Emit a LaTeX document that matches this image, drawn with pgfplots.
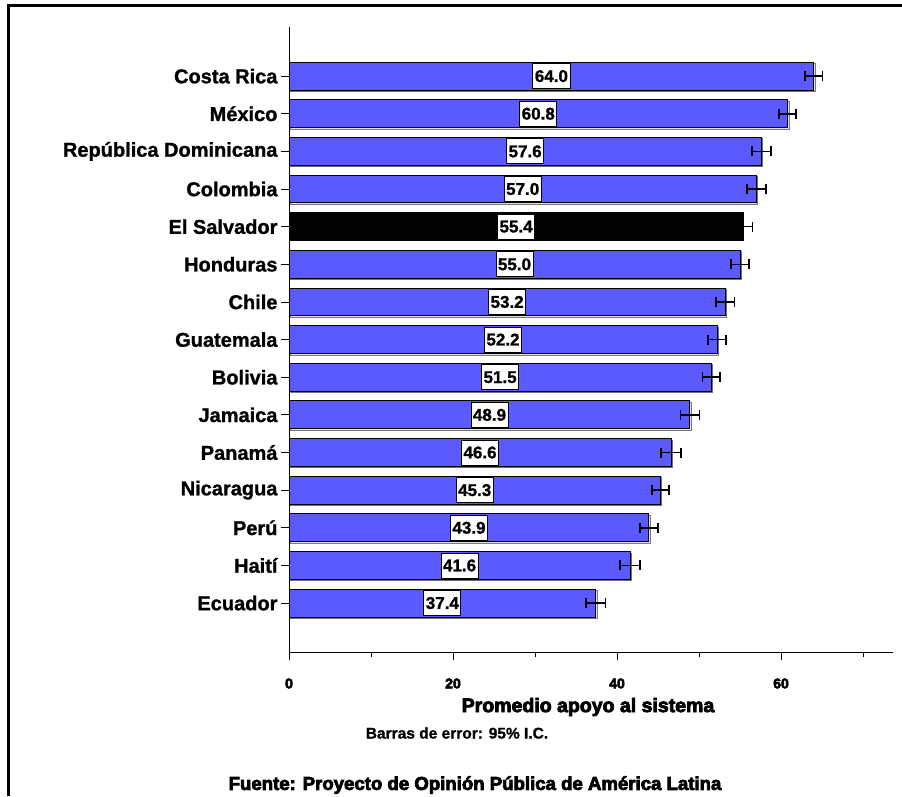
\documentclass[border=0pt]{standalone}
\usepackage{pgfplots}
\pgfplotsset{compat=1.18}
\usepackage{pgfplotstable}
\usepackage{fontspec}
\setmainfont{Liberation Sans}[BoldFeatures={FakeBold=1.2}]
\newfontfamily\heavy{Liberation Sans}[BoldFeatures={FakeBold=4}]
\usetikzlibrary{shadows}
\definecolor{barblue}{RGB}{90,90,255}

\pgfplotstableread{
y v e lab
14 64.0 1.05 64.0
13 60.8 1.05 60.8
12 57.6 1.15 57.6
11 57.0 1.15 57.0
9 55.0 1.1 55.0
8 53.2 1.15 53.2
7 52.2 1.1 52.2
6 51.5 1.05 51.5
5 48.9 1.15 48.9
4 46.6 1.2 46.6
3 45.3 1.05 45.3
2 43.9 1.1 43.9
1 41.6 1.2 41.6
0 37.4 1.2 37.4
}\dataBlue
\pgfplotstableread{
y v e lab
10 55.4 1.1 55.4
}\dataES
\pgfplotstableread{
y v lab
14 64.0 64.0
13 60.8 60.8
12 57.6 57.6
11 57.0 57.0
10 55.4 55.4
9 55.0 55.0
8 53.2 53.2
7 52.2 52.2
6 51.5 51.5
5 48.9 48.9
4 46.6 46.6
3 45.3 45.3
2 43.9 43.9
1 41.6 41.6
0 37.4 37.4
}\dataAll

\begin{document}
\begin{tikzpicture}
\useasboundingbox (0,0) rectangle (902pt,-796pt);
\draw[line width=3pt] (8pt,-796pt) -- (8pt,-5pt) -- (902pt,-5pt);
\begin{axis}[
  at={(289pt,-652pt)}, anchor=south west,
  x=8.2pt, y=37.64pt,
  xmin=0, xmax=73.7, ymin=-1.3, ymax=15.3,
  axis lines=left,
  axis line style={-, line width=0.8pt},
  xtick={0,20,40,60},
  minor xtick={10,30,50,70},
  ytick={0,...,14},
  yticklabels={Ecuador,Haití,Perú,Nicaragua,Panamá,Jamaica,Bolivia,Guatemala,Chile,Honduras,El Salvador,Colombia,República Dominicana,México,Costa Rica},
  tick align=outside,
  major tick length=8pt,
  minor tick length=5pt,
  every tick/.style={black, line width=0.8pt},
  /pgf/number format/assume math mode=true,
  xticklabel style={font=\heavy\bfseries\fontsize{14}{16}\selectfont, yshift=-15pt},
  yticklabel style={font=\bfseries\fontsize{20}{22}\selectfont},
  clip=false,
]
\addplot[xbar, bar width=0.74, bar shift=0pt, fill=barblue, draw=black, line width=1pt,
  drop shadow={shadow xshift=1.5pt, shadow yshift=-1.5pt, fill=black!25},
  error bars/.cd, x dir=both, x explicit, error mark=|,
  error bar style={line width=1.6pt, black},
  error mark options={line width=1.6pt, mark size=5pt, black}]
  table[x=v, y=y, x error=e] {\dataBlue};
\addplot[xbar, bar width=0.74, bar shift=0pt, fill=black, draw=black, line width=1pt,
  error bars/.cd, x dir=both, x explicit, error mark=|,
  error bar style={line width=1.6pt, black},
  error mark options={line width=1.6pt, mark size=5pt, black}]
  table[x=v, y=y, x error=e] {\dataES};
\addplot[draw=none, mark=none, nodes near coords, nodes near coords align={center},
  point meta=explicit symbolic,
  every node near coord/.style={fill=white, draw=black, line width=0.8pt,
    font=\bfseries\fontsize{17}{19}\selectfont, inner xsep=2pt, inner ysep=4pt,
    minimum height=25pt, text=black, anchor=center}]
  table[x expr=\thisrow{v}/2, y=y, meta=lab] {\dataAll};
\end{axis}
\node[font=\heavy\bfseries\fontsize{19.5}{22}\selectfont] at (588pt,-707pt) {Promedio apoyo al sistema};
\node[font=\bfseries\fontsize{15.5}{18}\selectfont] at (457pt,-733pt) {Barras de error: 95\% I.C.};
\node[font=\heavy\bfseries\fontsize{18.6}{21}\selectfont] at (475pt,-785pt) {Fuente: Proyecto de Opinión Pública de América Latina};
\end{tikzpicture}
\end{document}
